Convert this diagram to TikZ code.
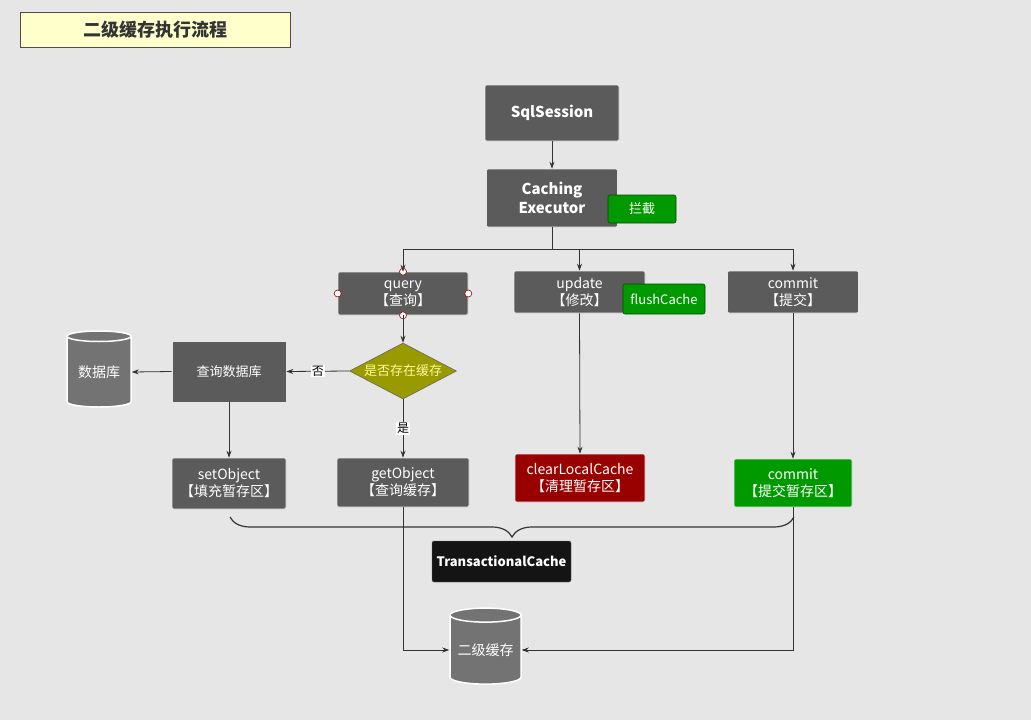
\documentclass[tikz,border=0pt]{standalone}
\usepackage{fontspec}
\setmainfont{Noto Sans CJK SC}
\usetikzlibrary{shapes.geometric,arrows.meta,decorations.pathreplacing}
\definecolor{bgc}{HTML}{E6E6E6}
\definecolor{boxc}{HTML}{5B5B5B}
\definecolor{greenc}{HTML}{009900}
\definecolor{redc}{HTML}{990000}
\definecolor{olivec}{HTML}{999900}
\definecolor{linec}{HTML}{333333}
\definecolor{titlec}{HTML}{FFFFCC}
\begin{document}
\begin{tikzpicture}[x=1pt,y=-1pt,
    every node/.style={inner sep=0pt,align=center},
    box/.style={rectangle,rounded corners=2pt,fill=boxc,draw=white!85!boxc,line width=0.6pt,text=white,font=\fontsize{14}{17}\selectfont},
    boldbox/.style={box,font=\fontsize{15}{19}\selectfont\bfseries},
    tag/.style={rectangle,rounded corners=2pt,fill=greenc,draw=green!30!black,line width=0.6pt,text=white,font=\fontsize{13}{16}\selectfont},
    db/.style={cylinder,shape border rotate=90,aspect=0.25,fill=black!55,draw=white,line width=1.5pt,text=white,font=\fontsize{14}{17}\selectfont},
    handle/.style={circle,minimum size=7pt,fill=white,draw=red!60!black,line width=0.6pt},
    link/.style={draw=linec,line width=0.8pt,-{Stealth[length=7pt,width=5pt]}},
    lbl/.style={fill=white,inner sep=1pt,font=\fontsize{12}{14}\selectfont}]
  \fill[bgc] (0,0) rectangle (1031,720);
  \useasboundingbox (0,0) rectangle (1031,720);
  % title
  \node[rectangle,fill=titlec,draw=black!70,line width=0.8pt,minimum width=270,minimum height=35,
    font=\fontsize{18}{21}\selectfont\bfseries,text=black!80] (title) at (155,29.5) {二级缓存执行流程};
  % executor
  \node[boldbox,minimum width=134,minimum height=56] (sql) at (552,113) {SqlSession};
  \node[boldbox,minimum width=131,minimum height=58] (exec) at (552,198) {Caching\\Executor};
  \node[tag,minimum width=68,minimum height=28] (intercept) at (642,209) {拦截};
  % operations
  \node[box,minimum width=130,minimum height=43] (query) at (403,293.5) {query\\【查询】};
  \node[box,minimum width=131,minimum height=42] (update) at (579.5,292) {update\\【修改】};
  \node[tag,minimum width=82,minimum height=30] (flush) at (664,299) {flushCache};
  \node[box,minimum width=131,minimum height=42] (commit) at (793,292) {commit\\【提交】};
  \foreach \a in {north,south,east,west}
    \node[handle] at (query.\a) {};
  % query branch
  \node[diamond,fill=olivec,draw=black!60,line width=0.6pt,minimum width=107,minimum height=56,aspect=1.9,
    text=yellow!40,font=\fontsize{13}{16}\selectfont] (hit) at (403,371) {是否存在缓存};
  \node[box,rounded corners=0pt,minimum width=114,minimum height=61,font=\fontsize{13}{16}\selectfont] (querydb) at (229,371.5) {查询数据库};
  \node[db,minimum width=64,minimum height=76] (database) at (99,372) {数据库};
  \node[box,minimum width=114,minimum height=51] (setobj) at (229,483.5) {setObject\\【填充暂存区】};
  \node[box,minimum width=132,minimum height=49] (getobj) at (403,482.5) {getObject\\【查询缓存】};
  \node[box,fill=redc,minimum width=130,minimum height=48] (clear) at (580,478) {clearLocalCache\\【清理暂存区】};
  \node[box,fill=greenc,minimum width=118,minimum height=48] (commitbuf) at (793,483) {commit\\【提交暂存区】};
  % transactional cache
  \node[rectangle,rounded corners=2pt,fill=black!92,draw=black!60,minimum width=139,minimum height=41,
    text=white,font=\fontsize{13}{16}\selectfont\bfseries] (tcache) at (501.5,561.5) {TransactionalCache};
  \node[db,minimum width=71,minimum height=76] (l2) at (485.5,650) {二级缓存};
  % connectors
  \coordinate (split) at (552,249);
  \draw[link] (sql) -- (exec);
  \draw[draw=linec,line width=0.8pt] (exec.south) -- (split);
  \draw[link] (split) -| (query.north);
  \draw[link] (split) -| (update.north);
  \draw[link] (split) -| (commit.north);
  \draw[link] (query.south) -- (hit.north);
  \draw[link] (hit.west) -- node[lbl] {否} (querydb.east);
  \draw[link] (querydb.west) -- (database.east);
  \draw[link] (querydb.south) -- (setobj.north);
  \draw[link] (hit.south) -- node[lbl] {是} (getobj.north);
  \draw[link] (update.south) -- (clear.north);
  \draw[link] (commit.south) -- (commitbuf.north);
  \draw[link] (getobj.south) |- (l2.west);
  \draw[link] (commitbuf.south) |- (l2.east);
  \coordinate (bl) at (230,517);
  \coordinate (br) at (794,517);
  \draw[linec,line width=1.2pt,decorate,decoration={brace,mirror,amplitude=20pt}] (bl) -- (br);
\end{tikzpicture}
\end{document}
